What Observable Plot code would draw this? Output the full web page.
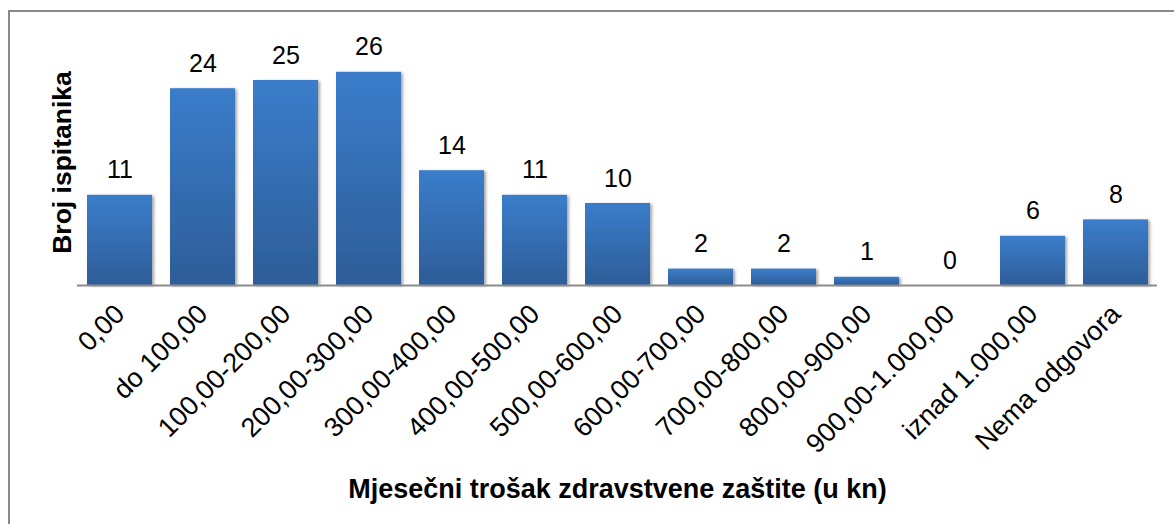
<!DOCTYPE html>
<html>
<head>
<meta charset="utf-8">
<script src="https://cdn.jsdelivr.net/npm/d3@7"></script>
<script src="https://cdn.jsdelivr.net/npm/@observablehq/plot@0.6"></script>
<style>
  html, body { margin: 0; padding: 0; background: #fff; }
  #chart { position: relative; width: 1174px; height: 524px; overflow: hidden; }
  #frame { position: absolute; left: 8px; top: 10px; width: 1300px; height: 700px;
           border-left: 2px solid #8a8a8a; border-top: 2px solid #8a8a8a; pointer-events: none; }
  svg { font-family: "Liberation Sans", Arial, sans-serif; }
</style>
</head>
<body>
<div id="chart"><div id="frame"></div></div>
<script>
const categories = ["0,00", "do 100,00", "100,00-200,00", "200,00-300,00", "300,00-400,00",
  "400,00-500,00", "500,00-600,00", "600,00-700,00", "700,00-800,00", "800,00-900,00",
  "900,00-1.000,00", "iznad 1.000,00", "Nema odgovora"];
const counts = [11, 24, 25, 26, 14, 11, 10, 2, 2, 1, 0, 6, 8];
const xTitle = "Mjesečni trošak zdravstvene zaštite (u kn)";
const yTitle = "Broj ispitanika";

const data = categories.map((c, i) => ({category: c, value: counts[i]}));

const chart = Plot.plot({
  width: 1174,
  height: 524,
  marginLeft: 77,
  marginRight: 17,
  marginTop: 39,
  marginBottom: 239,
  style: {fontFamily: "'Liberation Sans', Arial, sans-serif", background: "transparent"},
  x: {domain: categories, paddingInner: 0.217, paddingOuter: 0.11, label: null},
  y: {domain: [0, 30], axis: null},
  marks: [
    Plot.barY(data, {x: "category", y: "value", fill: "url(#barGrad)", filter: d => d.value > 0}),
    Plot.ruleY([0], {stroke: "#8c8c8c", strokeWidth: 2}),
    Plot.text(data, {x: "category", y: "value", text: d => String(d.value), dy: -25, fontSize: 25, fill: "#000"}),
    Plot.axisX({tickSize: 0, tickPadding: 24, tickRotate: -45, fontSize: 27, label: null, color: "#000"}),
    Plot.text([xTitle], {frameAnchor: "bottom", dy: 212, fontSize: 27, fontWeight: "bold", fill: "#000"}),
    Plot.text([yTitle], {frameAnchor: "left", textAnchor: "middle", dx: -15, rotate: -90, fontSize: 26.5, fontWeight: "bold", fill: "#000"})
  ]
});

const svg = d3.select(chart);
const defs = svg.insert("defs", ":first-child");
const g = defs.append("linearGradient").attr("id", "barGrad").attr("x1", 0).attr("y1", 0).attr("x2", 0).attr("y2", 1);
g.append("stop").attr("offset", "0%").attr("stop-color", "#3b7dcb");
g.append("stop").attr("offset", "100%").attr("stop-color", "#2d5d98");
const f = defs.append("filter").attr("id", "barShadow").attr("x", "-10%").attr("y", "-10%").attr("width", "130%").attr("height", "130%");
f.append("feDropShadow").attr("dx", 2).attr("dy", 1).attr("stdDeviation", 1.5).attr("flood-color", "#000").attr("flood-opacity", 0.35);
svg.selectAll("g[aria-label='bar'] rect").attr("filter", "url(#barShadow)");

document.getElementById("chart").appendChild(chart);
</script>
</body>
</html>
